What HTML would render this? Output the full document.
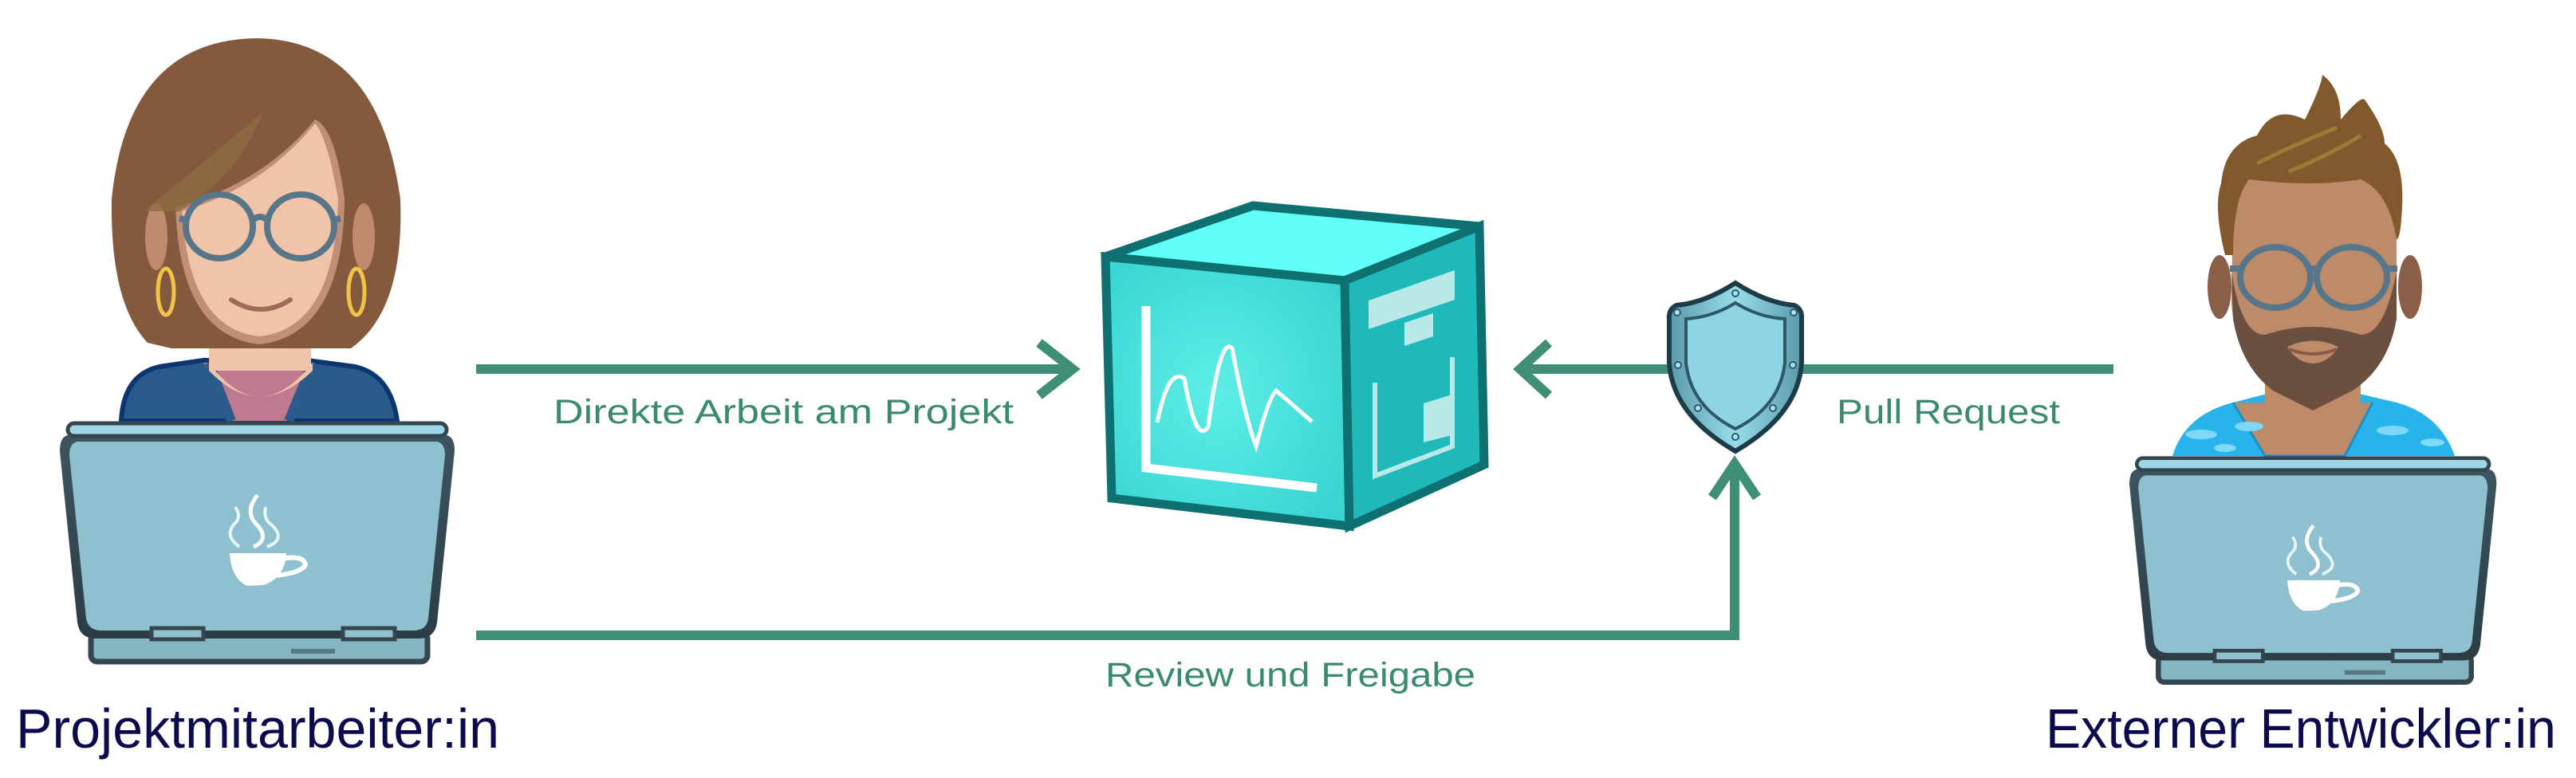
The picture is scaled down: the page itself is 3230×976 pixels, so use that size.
<!DOCTYPE html>
<html><head><meta charset="utf-8"><style>
html,body{margin:0;padding:0;background:#fff;width:3230px;height:976px;overflow:hidden}
svg{display:block}
text{font-family:"Liberation Sans",sans-serif}
</style></head><body>
<svg width="3230" height="976" viewBox="0 0 3230 976" xmlns="http://www.w3.org/2000/svg">
<defs>
<radialGradient id="fg" cx="0.45" cy="0.5" r="0.6"><stop offset="0" stop-color="#5eeee8"/><stop offset="1" stop-color="#3bd6d3"/></radialGradient>
<linearGradient id="sg" x1="0" x2="1"><stop offset="0" stop-color="#5a9aab"/><stop offset="0.5" stop-color="#98dcea"/><stop offset="1" stop-color="#5a9aab"/></linearGradient>
<linearGradient id="lidg" x1="0" y1="0" x2="0" y2="1"><stop offset="0" stop-color="#3d5560"/><stop offset="1" stop-color="#2b3c45"/></linearGradient>
<g id="laptop">
  <rect x="39" y="268" width="422" height="36" rx="8" fill="#85b4c3" stroke="#34474f" stroke-width="7"/>
  <path d="M10,20 Q0,22 0,40 L22,255 Q25,275 45,275 L450,275 Q470,275 473,255 L495,40 Q495,22 485,20 Z" fill="url(#lidg)"/>
  <path d="M22,28 Q12,30 12,45 L33,250 Q36,265 52,265 L443,265 Q460,265 462,250 L483,45 Q483,30 473,28 Z" fill="#8ec0cf"/>
  <rect x="10" y="5" width="475" height="16" rx="8" fill="#9fd6e6" stroke="#34474f" stroke-width="5"/>
  <rect x="115" y="262" width="65" height="14" fill="#8ec0cf" stroke="#34474f" stroke-width="5"/>
  <rect x="355" y="262" width="65" height="14" fill="#8ec0cf" stroke="#34474f" stroke-width="5"/>
  <rect x="290" y="288" width="55" height="6" fill="#5a7784"/>
  <path d="M213,168 L284,168 Q282,200 255,208 L235,209 Q215,200 213,168 Z" fill="#fff"/>
  <path d="M278,175 Q305,170 308,182 Q305,192 272,196" fill="none" stroke="#fff" stroke-width="6"/>
  <path d="M225,160 Q205,145 220,130 Q228,122 220,110" fill="none" stroke="#e8f4f6" stroke-width="4"/>
  <path d="M243,160 Q265,150 245,130 Q232,115 248,95" fill="none" stroke="#fff" stroke-width="5"/>
  <path d="M260,160 Q285,150 265,132 Q255,125 258,110" fill="none" stroke="#e8f4f6" stroke-width="4"/>
</g>
</defs>

<path d="M152,528 Q155,470 200,460 L255,452 L385,452 L445,460 Q490,470 498,528 Z" fill="#295b8a" stroke="#0d3570" stroke-width="6"/>
<path d="M255,455 L290,528 L360,528 L395,455 Z" fill="#c07a90"/>
<path d="M262,455 L290,528 M392,455 L362,528" stroke="#2a5b8a" stroke-width="12"/>
<rect x="262" y="410" width="128" height="55" fill="#efc4a8"/>
<path d="M262,455 Q325,540 392,455 L392,465 Q325,530 262,465 Z" fill="#efc4a8"/>
<path d="M322,48 Q475,50 502,250 Q507,390 440,437 L400,437 Q250,437 215,437 L185,430 Q138,380 140,250 Q160,50 322,48 Z" fill="#845a3e"/>
<ellipse cx="196" cy="297" rx="14" ry="42" fill="#c08a6e"/>
<ellipse cx="456" cy="297" rx="14" ry="42" fill="#c08a6e"/>
<path d="M220,250 Q222,420 325,432 Q430,420 432,250 Q420,160 395,150 Q330,230 220,260 Z" fill="#c08f75"/>
<path d="M228,250 Q232,412 325,422 Q420,412 424,250 Q410,170 395,155 Q330,235 228,265 Z" fill="#efc4a8"/>
<path d="M180,265 Q260,200 330,140 Q300,220 225,265 Z" fill="#8f6a42" opacity="0.8"/>
<ellipse cx="275" cy="284" rx="42" ry="40" fill="none" stroke="#58768a" stroke-width="8"/>
<ellipse cx="377" cy="284" rx="42" ry="40" fill="none" stroke="#58768a" stroke-width="8"/>
<path d="M317,276 Q326,268 335,276" fill="none" stroke="#58768a" stroke-width="8"/>
<path d="M225,274 L233,276 M419,276 L427,274" stroke="#58768a" stroke-width="8"/>
<ellipse cx="208" cy="366" rx="10" ry="29" fill="none" stroke="#f2c24a" stroke-width="5"/>
<ellipse cx="447" cy="366" rx="10" ry="29" fill="none" stroke="#f2c24a" stroke-width="5"/>
<path d="M290,376 Q327,400 364,376" fill="none" stroke="#a06a5a" stroke-width="6" stroke-linecap="round"/>
<use href="#laptop" transform="translate(75,526)"/>
<text x="20" y="938" font-size="70" fill="#0b0b4d" textLength="606" lengthAdjust="spacingAndGlyphs">Projektmitarbeiter:in</text>

<g stroke="#3f8f78" stroke-width="12" fill="none">
  <line x1="597" y1="463" x2="1345" y2="463"/>
  <path d="M1303,430 L1345,463 L1303,496"/>
  <line x1="1906" y1="463" x2="2095" y2="463"/>
  <path d="M1942,430 L1906,463 L1942,496"/>
  <line x1="2258" y1="463" x2="2650" y2="463"/>
  <path d="M597,797 L2175,797 L2175,582"/>
  <path d="M2147,624 L2175,582 L2203,624"/>
</g>
<g fill="#3a8a72" font-size="43">
<text x="694" y="531" textLength="577" lengthAdjust="spacingAndGlyphs">Direkte Arbeit am Projekt</text>
<text x="2303" y="531" textLength="280" lengthAdjust="spacingAndGlyphs">Pull Request</text>
<text x="1386" y="861" textLength="464" lengthAdjust="spacingAndGlyphs">Review und Freigabe</text>
</g>

<g stroke="#0e7070" stroke-width="11" stroke-linejoin="miter">
  <polygon points="1386,322 1571,258 1855,284 1686,352" fill="#62fff8"/>
  <polygon points="1386,322 1686,352 1692,660 1394,625" fill="url(#fg)"/>
  <polygon points="1686,352 1855,284 1861,583 1692,660" fill="#20b9b9"/>
</g>
<path d="M1437,384 L1437,587 L1651,612" fill="none" stroke="#fff" stroke-width="11"/>
<path d="M1451,530 Q1465,460 1485,475 Q1500,560 1515,535 Q1530,420 1545,437 Q1560,520 1575,560 Q1590,500 1600,490 Q1612,500 1645,529" fill="none" stroke="#fff" stroke-width="5"/>
<polygon points="1716,377 1824,339 1824,376 1716,413" fill="#b8e8e8"/>
<polygon points="1761,405 1797,393 1797,422 1761,434" fill="#b8e8e8"/>
<polygon points="1785,506 1824,494 1824,545 1785,555" fill="#b8e8e8"/>
<path d="M1724,480 L1724,597 L1821,560 L1821,448" fill="none" stroke="#b8e8e8" stroke-width="6"/>

<path d="M2176,355 Q2215,380 2250,383 Q2260,388 2259,400 L2259,455 Q2255,520 2176,566 Q2097,520 2093,455 L2093,400 Q2092,388 2102,383 Q2137,380 2176,355 Z" fill="url(#sg)" stroke="#1e3c48" stroke-width="6"/>
<path d="M2176,380 Q2205,398 2238,400 L2238,455 Q2232,510 2176,538 Q2120,510 2114,455 L2114,400 Q2147,398 2176,380 Z" fill="#8ed4e3" stroke="#2e5868" stroke-width="4"/>
<g fill="#a8e6f0" stroke="#2e5868" stroke-width="2">
<circle cx="2176" cy="368" r="4"/><circle cx="2103" cy="392" r="4"/><circle cx="2249" cy="392" r="4"/>
<circle cx="2104" cy="458" r="4"/><circle cx="2248" cy="458" r="4"/><circle cx="2129" cy="512" r="4"/><circle cx="2223" cy="512" r="4"/><circle cx="2176" cy="548" r="4"/>
</g>

<path d="M2724,572 Q2740,520 2800,505 L2850,492 L2950,492 L3005,505 Q3060,520 3078,572 Z" fill="#28b4ea"/>
<path d="M2800,505 L2840,572 L2940,572 L2975,505" fill="#bd8b6a" stroke="#1a8fc8" stroke-width="3"/>
<g fill="#7fd8f7"><ellipse cx="2760" cy="545" rx="20" ry="6"/><ellipse cx="2820" cy="535" rx="18" ry="6"/><ellipse cx="3000" cy="540" rx="20" ry="6"/><ellipse cx="3050" cy="555" rx="15" ry="5"/><ellipse cx="2790" cy="562" rx="14" ry="5"/></g>
<rect x="2840" y="480" width="120" height="40" fill="#bd8b6a"/>
<ellipse cx="2783" cy="360" rx="15" ry="40" fill="#8c6048"/>
<ellipse cx="3022" cy="360" rx="15" ry="40" fill="#8c6048"/>
<path d="M2800,240 Q2800,200 2900,200 Q3005,200 3005,250 L3005,380 Q3000,430 2960,470 L2900,515 L2840,470 Q2800,430 2798,380 Z" fill="#bd8b6a"/>
<path d="M2798,340 L2800,400 Q2810,460 2850,490 L2900,515 L2950,490 Q2995,460 3005,400 L3005,340 Q2990,420 2960,420 Q2900,400 2840,420 Q2810,420 2798,340 Z" fill="#6b5040"/>
<path d="M2868,435 Q2900,420 2932,435 Q2920,455 2900,456 Q2880,455 2868,435 Z" fill="#bd8b6a"/>
<path d="M2870,438 Q2900,450 2930,438" fill="none" stroke="#8c5a4a" stroke-width="4"/>
<path d="M2790,320 Q2775,260 2785,230 Q2790,180 2830,170 Q2850,130 2890,150 Q2910,110 2912,94 Q2935,110 2935,150 Q2960,120 2965,125 Q2990,160 2990,180 Q3015,200 3012,260 Q3010,300 3005,300 Q2995,240 2960,225 Q2900,235 2820,225 Q2800,250 2800,320 Z" fill="#81592c"/>
<path d="M2830,205 Q2880,180 2930,160 M2870,215 Q2920,195 2960,170" stroke="#a07838" stroke-width="5" fill="none"/>
<ellipse cx="2853" cy="348" rx="44" ry="38" fill="none" stroke="#58768a" stroke-width="8"/>
<ellipse cx="2949" cy="348" rx="44" ry="38" fill="none" stroke="#58768a" stroke-width="8"/>
<path d="M2895,340 Q2901,334 2907,340" fill="none" stroke="#58768a" stroke-width="8"/>
<path d="M2808,337 L2796,337 M2993,337 L3006,337" stroke="#58768a" stroke-width="8"/>
<use href="#laptop" transform="translate(2670,570) scale(0.93,0.94)"/>
<text x="2565" y="938" font-size="70" fill="#0b0b4d" textLength="640" lengthAdjust="spacingAndGlyphs">Externer Entwickler:in</text>
</svg>
</body></html>
